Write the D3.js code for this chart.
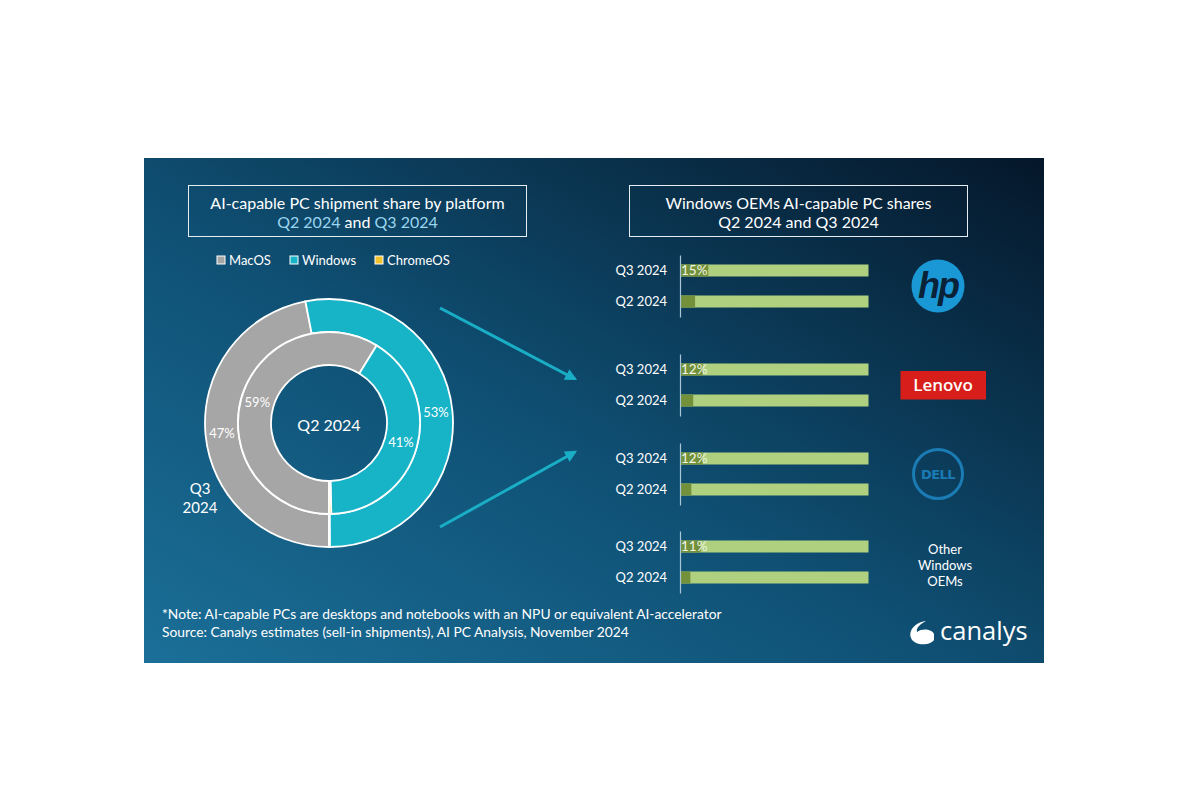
<!DOCTYPE html>
<html><head><meta charset="utf-8">
<script src="https://cdn.jsdelivr.net/npm/d3@7"></script>
<style>html,body{margin:0;background:#fff;} svg{display:block;font-family:Lato,'Open Sans',sans-serif;}</style>
</head><body><svg id="c" width="1200" height="800"></svg>
<script>
// ---- data ----
const platforms = ["MacOS", "Windows", "ChromeOS"];
const platformColors = ["#a6a6a6", "#17b3c7", "#f2c12e"];
const shareQ2 = [59, 41, 0.4];
const shareQ3 = [47, 53, 0.1];
const oems = ["HP", "Lenovo", "Dell", "Other Windows OEMs"];
const quarters = ["Q3 2024", "Q2 2024"];
const oemQ3 = [15, 12, 12, 11];
const oemQ2 = [8, 7, 6, 5.5];
const noteLines = [
  "*Note: AI-capable PCs are desktops and notebooks with an NPU or equivalent AI-accelerator",
  "Source: Canalys estimates (sell-in shipments), AI PC Analysis, November 2024"
];

const svg = d3.select("#c");
const defs = svg.append("defs");
const grad = defs.append("linearGradient").attr("id", "bg")
  .attr("x1", "0%").attr("y1", "100%").attr("x2", "100%").attr("y2", "0%");
grad.append("stop").attr("offset", "0%").attr("stop-color", "#1b6f98");
grad.append("stop").attr("offset", "45%").attr("stop-color", "#0f5074");
grad.append("stop").attr("offset", "100%").attr("stop-color", "#05172a");
defs.append("marker").attr("id", "ah").attr("viewBox", "0 0 10 10")
  .attr("refX", 8).attr("refY", 5).attr("markerWidth", 4).attr("markerHeight", 4)
  .attr("orient", "auto").append("path").attr("d", "M0,0L10,5L0,10Z").attr("fill", "#1aaec6");

// panel
svg.append("rect").attr("x", 144).attr("y", 158).attr("width", 900).attr("height", 505).attr("fill", "url(#bg)");

// ---- left title ----
svg.append("rect").attr("x", 188.5).attr("y", 185.5).attr("width", 338).attr("height", 51)
  .attr("fill", "none").attr("stroke", "#e6eef3").attr("stroke-width", 1);
svg.append("text").attr("x", 357.5).attr("y", 209).attr("text-anchor", "middle")
  .attr("font-size", 16).attr("fill", "#ffffff").text("AI-capable PC shipment share by platform");
const t2 = svg.append("text").attr("x", 357.5).attr("y", 228).attr("text-anchor", "middle")
  .attr("font-size", 16).attr("fill", "#ffffff");
t2.append("tspan").attr("fill", "#9ad6f0").text("Q2 2024");
t2.append("tspan").text(" and ");
t2.append("tspan").attr("fill", "#9ad6f0").text("Q3 2024");

// legend
const legX = [217, 290, 375];
platforms.forEach((p, i) => {
  svg.append("rect").attr("x", legX[i]).attr("y", 256).attr("width", 8).attr("height", 8)
    .attr("fill", platformColors[i]).attr("stroke", "#ffffff").attr("stroke-width", 1);
  svg.append("text").attr("x", legX[i] + 12).attr("y", 265).attr("font-size", 13)
    .attr("fill", "#ffffff").text(p);
});

// ---- donut ----
const cx = 329, cy = 423;
const pie = d3.pie().sort(null).startAngle(Math.PI).endAngle(3 * Math.PI);
const g = svg.append("g").attr("transform", `translate(${cx},${cy})`);
const rings = [
  { data: shareQ3, inner: 91, outer: 124 },
  { data: shareQ2, inner: 58, outer: 91 }
];
rings.forEach(r => {
  const arc = d3.arc().innerRadius(r.inner).outerRadius(r.outer);
  const arcs = pie(r.data);
  g.selectAll(null).data(arcs).enter().append("path")
    .attr("d", arc).attr("fill", (d, i) => platformColors[i])
    .attr("stroke", "#ffffff").attr("stroke-width", 1.8);
  g.selectAll(null).data(arcs.filter((d, i) => i < 2)).enter().append("text")
    .attr("transform", d => `translate(${arc.centroid(d)})`)
    .attr("text-anchor", "middle").attr("dy", "0.35em").attr("font-size", 13)
    .attr("fill", "#ffffff").text(d => d.data + "%");
});
g.append("text").attr("text-anchor", "middle").attr("dy", "0.35em").attr("y", 2)
  .attr("font-size", 16).attr("fill", "#ffffff").text("Q2 2024");
svg.append("text").attr("x", 200).attr("y", 494).attr("text-anchor", "middle")
  .attr("font-size", 15).attr("fill", "#ffffff").text("Q3");
svg.append("text").attr("x", 200).attr("y", 513).attr("text-anchor", "middle")
  .attr("font-size", 15).attr("fill", "#ffffff").text("2024");

// arrows
[[440, 308, 575, 379], [440, 527, 575, 452]].forEach(a => {
  svg.append("line").attr("x1", a[0]).attr("y1", a[1]).attr("x2", a[2]).attr("y2", a[3])
    .attr("stroke", "#1aaec6").attr("stroke-width", 3).attr("marker-end", "url(#ah)");
});

// ---- right title ----
svg.append("rect").attr("x", 629.5).attr("y", 185.5).attr("width", 338).attr("height", 51)
  .attr("fill", "none").attr("stroke", "#e6eef3").attr("stroke-width", 1);
svg.append("text").attr("x", 798.5).attr("y", 209).attr("text-anchor", "middle")
  .attr("font-size", 16).attr("fill", "#ffffff").text("Windows OEMs AI-capable PC shares");
svg.append("text").attr("x", 798.5).attr("y", 228).attr("text-anchor", "middle")
  .attr("font-size", 16).attr("fill", "#ffffff").text("Q2 2024 and Q3 2024");

// ---- bars ----
const x = d3.scaleLinear().domain([0, 100]).range([680, 868.5]);
const groupTop = [255, 354, 443, 531];
const y = d3.scaleBand().domain(quarters).range([0, 62]).paddingInner(0.613).paddingOuter(0.306);
oems.forEach((o, i) => {
  const gg = svg.append("g").attr("transform", `translate(0,${groupTop[i]})`);
  const vals = [oemQ3[i], oemQ2[i]];
  quarters.forEach((q, j) => {
    gg.append("rect").attr("x", x(0)).attr("y", y(q)).attr("width", x(100) - x(0))
      .attr("height", y.bandwidth()).attr("fill", "#aed07f");
    gg.append("rect").attr("x", x(0)).attr("y", y(q)).attr("width", x(vals[j]) - x(0))
      .attr("height", y.bandwidth()).attr("fill", "#72913a");
  });
  gg.append("text").attr("x", x(0) + 1).attr("y", y(quarters[0]) + y.bandwidth() / 2)
    .attr("dy", "0.35em").attr("font-size", 13.5).attr("fill", "#f1f6e6").text(oemQ3[i] + "%");
  const axis = d3.axisLeft(y).tickSize(0).tickPadding(13);
  const ag = gg.append("g").attr("transform", `translate(${x(0)},0)`).call(axis);
  ag.select(".domain").attr("stroke", "#a9c6d8").attr("stroke-width", 1.2);
  ag.selectAll("text").attr("font-size", 13).attr("fill", "#ffffff").attr("font-family", "Lato,'Open Sans',sans-serif");
});

// ---- logos ----
svg.append("circle").attr("cx", 938).attr("cy", 286).attr("r", 26.5).attr("fill", "#1a98d5");
svg.append("text").attr("x", 938).attr("y", 298).attr("text-anchor", "middle")
  .attr("font-size", 36).attr("font-style", "italic").attr("font-weight", "bold")
  .attr("font-family", "'Liberation Sans',sans-serif").attr("fill", "#0a2238").attr("letter-spacing", -2).text("hp");
svg.append("rect").attr("x", 900.5).attr("y", 371).attr("width", 85.5).attr("height", 28.5).attr("fill", "#d81e1a");
svg.append("text").attr("x", 943).attr("y", 391).attr("text-anchor", "middle")
  .attr("font-size", 17).attr("font-weight", 600).attr("fill", "#ffffff")
  .attr("font-family", "'Open Sans',sans-serif").text("Lenovo");
svg.append("circle").attr("cx", 938).attr("cy", 474).attr("r", 24.5).attr("fill", "none")
  .attr("stroke", "#1b7bb4").attr("stroke-width", 3);
svg.append("text").attr("x", 938).attr("y", 479).attr("text-anchor", "middle")
  .attr("font-size", 13).attr("font-weight", "bold").attr("fill", "#1b7bb4")
  .attr("font-family", "'DejaVu Sans',sans-serif").attr("letter-spacing", -0.5).text("DELL");
["Other", "Windows", "OEMs"].forEach((w, i) => {
  svg.append("text").attr("x", 945).attr("y", 554 + i * 16).attr("text-anchor", "middle")
    .attr("font-size", 13).attr("fill", "#ffffff").text(w);
});

// ---- footer ----
noteLines.forEach((l, i) => {
  svg.append("text").attr("x", 162).attr("y", 619 + i * 18).attr("font-size", 13.8)
    .attr("fill", "#ffffff").text(l);
});
// canalys logo
svg.append("path").attr("fill", "#ffffff")
  .attr("d", "M934,640 C930,646 914,646 911,638 C908,630 916,622 926,621 C920,624 916,628 917,632 C922,628 932,629 934,634 Z");
svg.append("text").attr("x", 940).attr("y", 640).attr("font-size", 25.5)
  .attr("font-family", "'Open Sans',sans-serif").attr("fill", "#ffffff").text("canalys");
</script></body></html>
